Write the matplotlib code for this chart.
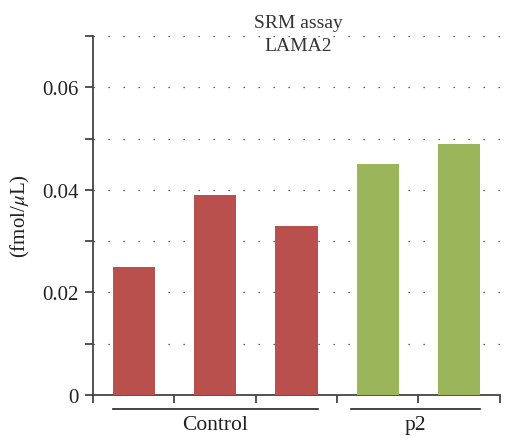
import matplotlib
matplotlib.use("Agg")
import matplotlib.pyplot as plt
import matplotlib.transforms as mtransforms

values = [0.025, 0.039, 0.033, 0.045, 0.049]
groups = ["Control", "Control", "Control", "p2", "p2"]
group_names = ["Control", "p2"]
group_colors = {"Control": "#B9504E", "p2": "#9BB55A"}
yticks = [0, 0.01, 0.02, 0.03, 0.04, 0.05, 0.06, 0.07]
ytick_labels = ["0", "", "0.02", "", "0.04", "", "0.06", ""]

plt.rcParams['font.family'] = ['Liberation Serif', 'DejaVu Serif']
plt.rcParams['mathtext.fontset'] = 'stix'

fig = plt.figure(figsize=(5.06, 4.39), dpi=100)
ax = fig.add_axes([0.1838, 0.098, 0.804, 0.8177])

x = list(range(len(values)))
width = 0.52
ax.bar(x, values, width=width, color=[group_colors[g] for g in groups], zorder=3)

ax.set_xlim(-0.5, len(values) - 0.5)
ax.set_ylim(0, 0.07)
ax.set_yticks(yticks)
ax.set_yticklabels(ytick_labels)
ax.set_xticks([i - 0.5 for i in range(len(values) + 1)])
ax.set_xticklabels([])

ax.yaxis.grid(True, linestyle=(0, (1, 11)), color="#333333", linewidth=0.9, zorder=0)
ax.set_axisbelow(True)

for s in ["top", "right"]:
    ax.spines[s].set_visible(False)
for s in ["left", "bottom"]:
    ax.spines[s].set_color("#444444")
    ax.spines[s].set_linewidth(1.3)
ax.tick_params(axis="both", direction="out", length=6, width=1.3, color="#444444",
               labelsize=15, labelcolor="#222222")
ax.tick_params(axis="y", pad=4)

ax.set_ylabel("(fmol/$\\mu$L)", fontsize=15, color="#222222", labelpad=8)

ax.text(0.505, 1.062, "SRM assay\nLAMA2", transform=ax.transAxes, ha="center", va="top",
        fontsize=14, color="#333333", linespacing=1.45)

trans = mtransforms.blended_transform_factory(ax.transData, ax.transAxes)
offsets = {"Control": (-width / 2, width / 2), "p2": (-width / 2 - 0.07, width / 2)}
for name in group_names:
    idx = [i for i, g in enumerate(groups) if g == name]
    x0 = idx[0] + offsets[name][0]
    x1 = idx[-1] + offsets[name][1]
    ax.plot([x0, x1], [-0.039, -0.039], transform=trans, color="#222222",
            linewidth=1.2, clip_on=False)
    ax.text((x0 + x1) / 2, -0.082, name, transform=trans, ha="center", va="center",
            fontsize=15.5, color="#222222")

fig.savefig("out.png", dpi=100)
